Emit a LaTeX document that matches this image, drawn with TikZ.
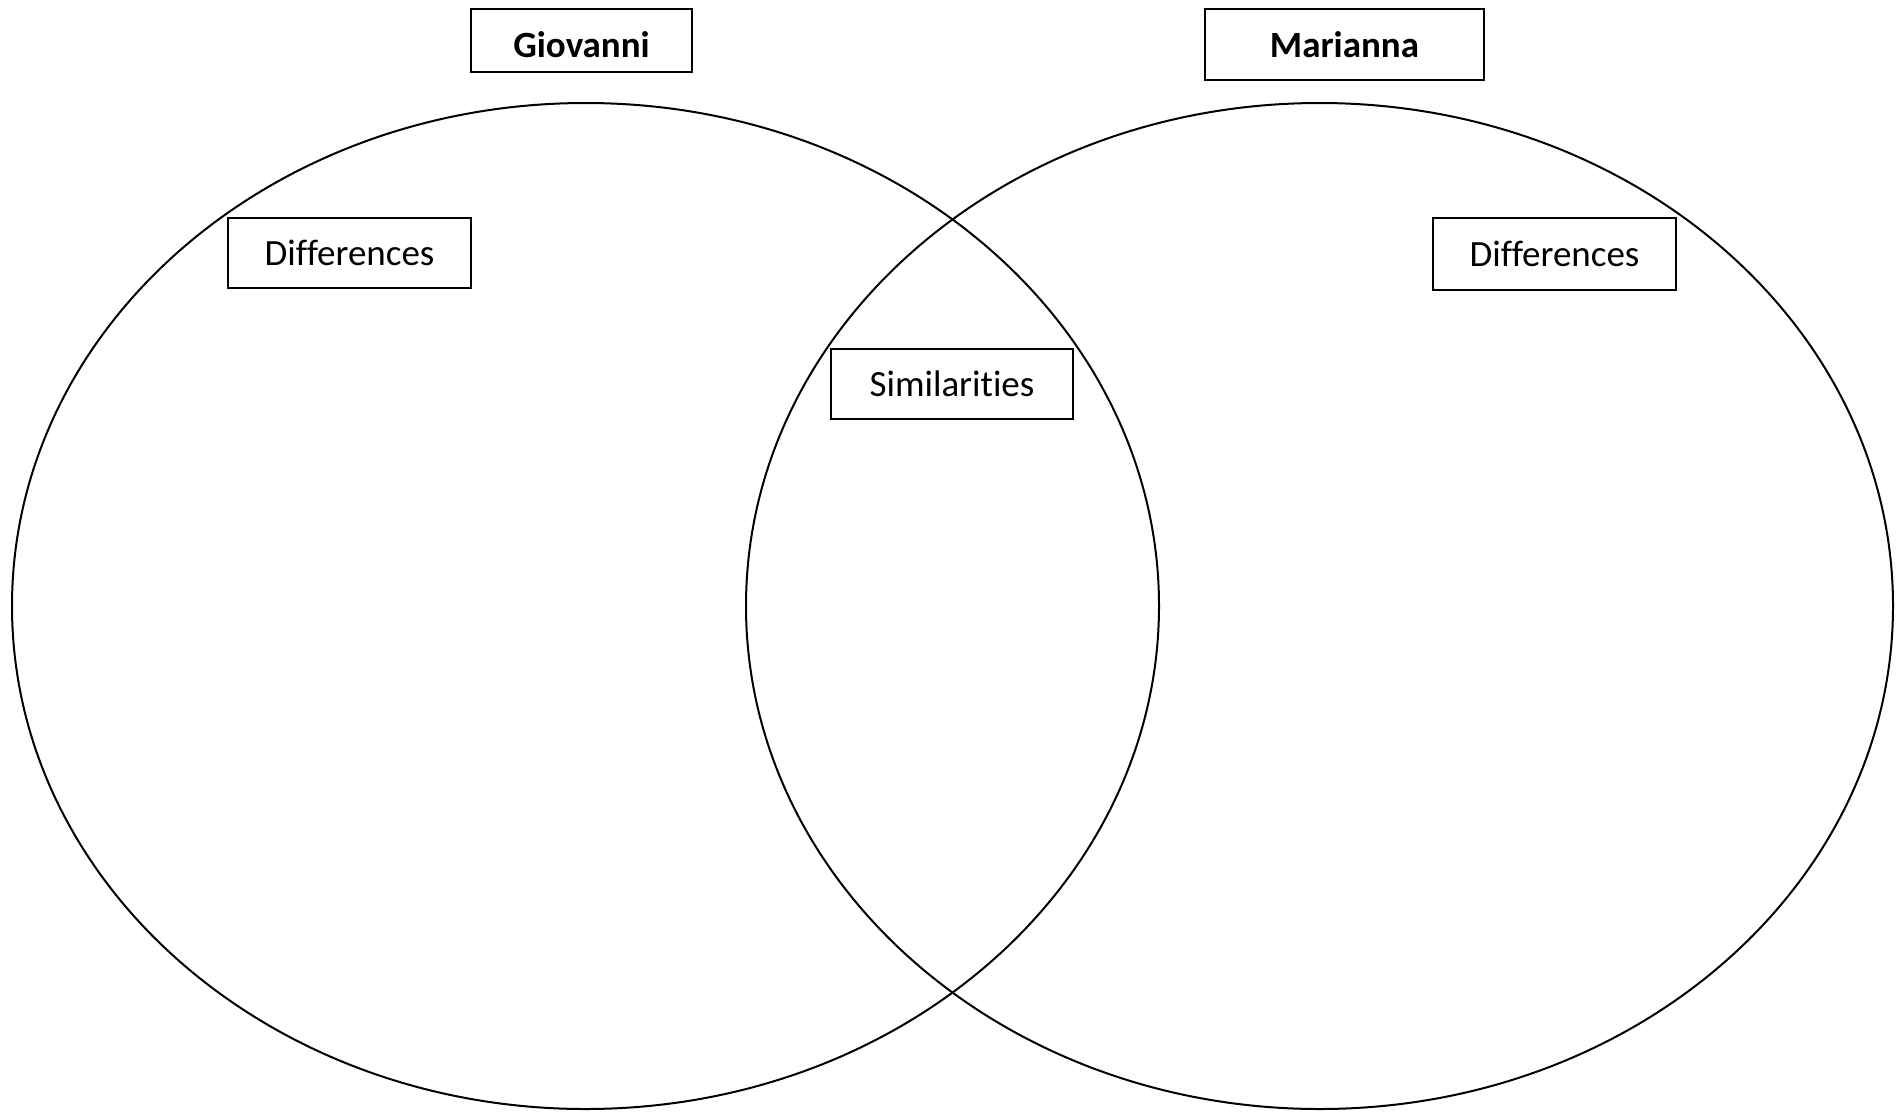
\documentclass[tikz,border=0pt]{standalone}
\usepackage{fontspec}
\setmainfont[Ligatures=NoCommon]{Carlito}
\begin{document}
\begin{tikzpicture}[x=1pt,y=-1pt,
  venn/.style={draw=black,line width=2pt},
  labelbox/.style={draw=black,line width=2pt,fill=white,inner sep=0pt,font=\fontsize{37}{44}\selectfont},
  namebox/.style={labelbox,font=\fontsize{37}{44}\selectfont\bfseries}]
\useasboundingbox (0,0) rectangle (1903,1112);
\draw[venn] (585.5,606) ellipse [x radius=573.5, y radius=503];
\draw[venn] (1319.5,606) ellipse [x radius=573.5, y radius=503];
\node[namebox,minimum width=221pt,minimum height=63pt,text height=34pt] (gio) at (581.5,40.5) {Giovanni};
\node[namebox,minimum width=279pt,minimum height=71pt] (mar) at (1344.5,44.5) {Marianna};
\node[labelbox,minimum width=243pt,minimum height=70pt] (dl) at (349.5,253) {Differences};
\node[labelbox,minimum width=243pt,minimum height=72pt] (dr) at (1554.5,254) {Differences};
\node[labelbox,minimum width=242pt,minimum height=70pt] (sim) at (952,384) {Similarities};
\end{tikzpicture}
\end{document}
